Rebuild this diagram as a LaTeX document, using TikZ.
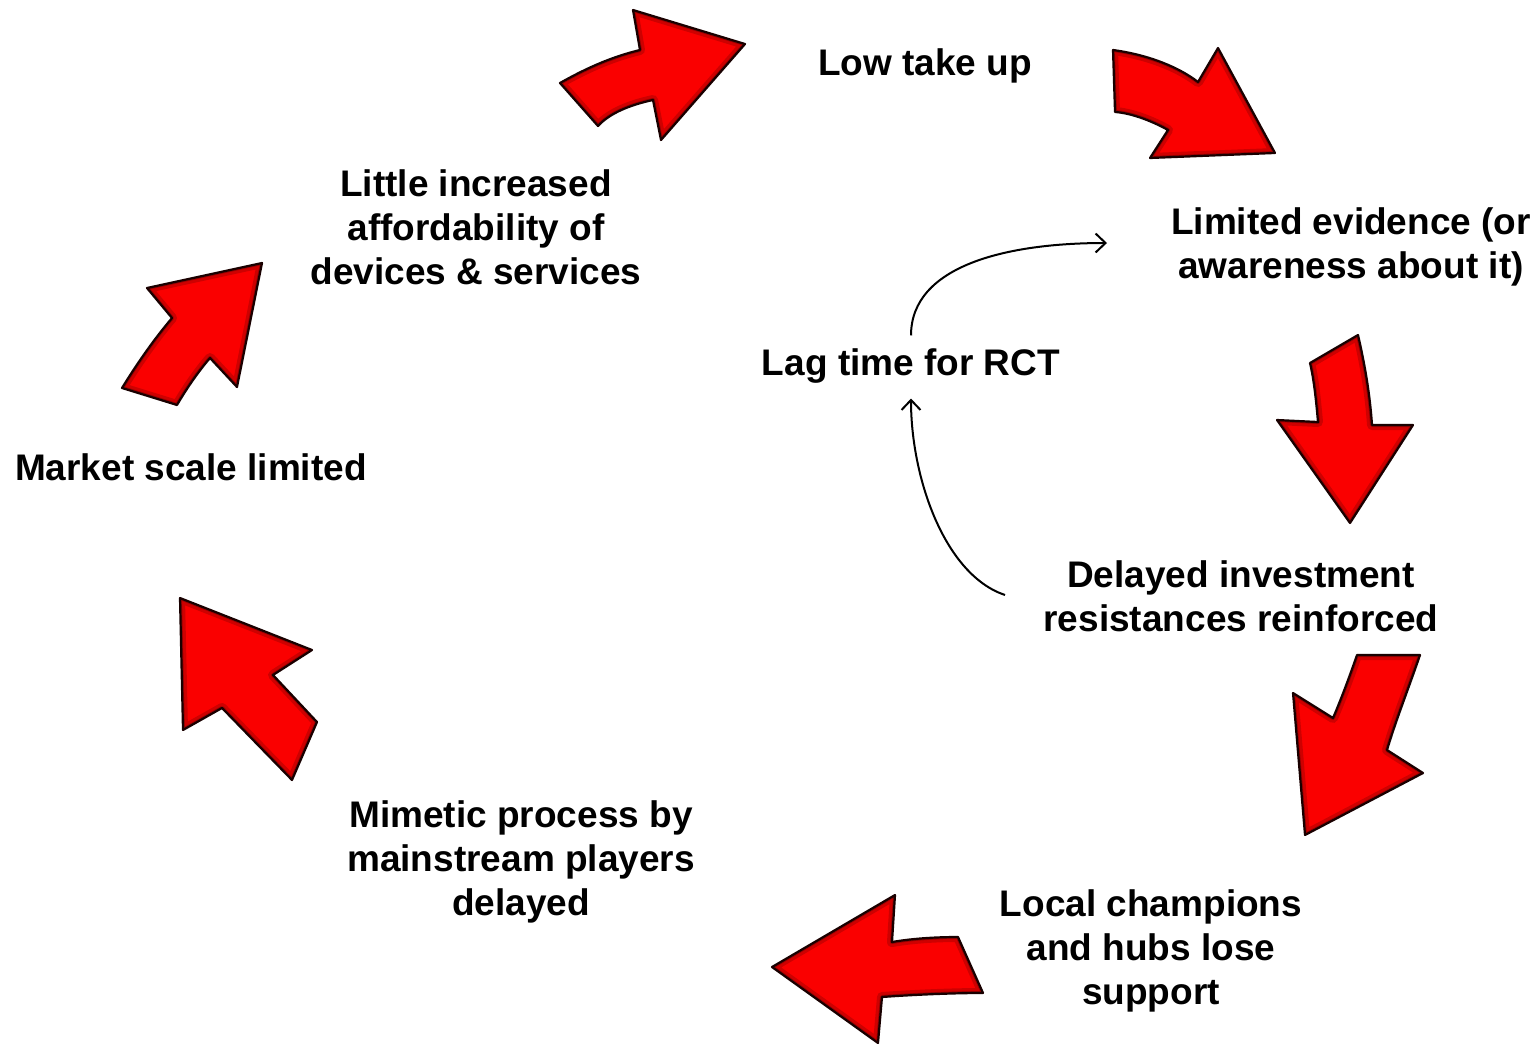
\documentclass[tikz,border=0pt]{standalone}
\usepackage{fontspec}
\setmainfont{Liberation Sans}
\usetikzlibrary{arrows.meta}
\definecolor{arrowred}{RGB}{250,0,0}
\definecolor{rimred}{RGB}{170,0,0}
\newcommand\bevelarrow[1]{%
  \begin{scope}
    \clip #1;
    \fill[arrowred] #1;
    \draw[line width=10pt, rimred, opacity=0.55, line join=round] #1;
    \draw[line width=4pt, red!60!black, line join=round] #1;
  \end{scope}
  \draw[line width=2.2pt, black!90!red, line join=round] #1;
}
\begin{document}
\begin{tikzpicture}[x=1pt,y=-1pt,
  lbl/.style={font=\bfseries\fontsize{37}{44}\selectfont, align=center, inner sep=0pt},
  thinarrow/.style={line width=2pt, -{Straight Barb[length=10pt,width=19pt]}}]
\useasboundingbox (0,0) rectangle (1534,1047);
% labels
\node[lbl] (low) at (925,66) {Low take up};
\node[lbl] (little) at (476,227) {Little increased\\affordability of\\devices \& services};
\node[lbl] (limited) at (1351,247) {Limited evidence (or\\awareness about it)};
\node[lbl] (lag) at (911,366) {Lag time for RCT};
\node[lbl] (market) at (191,467) {Market scale limited};
\node[lbl] (delayed) at (1241,596) {Delayed investment\\resistances reinforced};
\node[lbl] (mimetic) at (521,862) {Mimetic process by\\mainstream players\\delayed};
\node[lbl] (local) at (1151,951) {Local champions\\and hubs lose\\support};
% connector ends
\coordinate (evin) at (1107,243);
\coordinate (delout) at (1005,595);
\draw[thinarrow] ([yshift=13pt]lag.north) .. controls +(0,-70) and +(-100,0) .. (evin);
\draw[thinarrow] (delout) .. controls +(-60,-20) and +(0,80) .. ([yshift=-15pt]lag.south);
% red arrows
\bevelarrow{(560,83) .. controls (590,66) and (615,56) .. (640,50) -- (633,10) -- (745,44) -- (661,140) -- (653,100) .. controls (630,105) and (610,113) .. (598,126) -- cycle}
\bevelarrow{(1113,50) .. controls (1150,55) and (1180,68) .. (1198,82) -- (1218,48) -- (1275,153) -- (1150,158) -- (1168,130) .. controls (1150,120) and (1130,113) .. (1115,112) -- cycle}
\bevelarrow{(1310,363) -- (1358,335) .. controls (1365,365) and (1370,395) .. (1372,425) -- (1413,425) -- (1350,523) -- (1277,420) -- (1318,422) .. controls (1316,400) and (1314,380) .. (1310,363) -- cycle}
\bevelarrow{(1357,655) -- (1420,655) .. controls (1408,690) and (1396,720) .. (1387,750) -- (1423,773) -- (1305,835) -- (1293,693) -- (1333,718) .. controls (1342,697) and (1350,675) .. cycle}
\bevelarrow{(772,967) -- (895,895) -- (892,942) .. controls (915,938) and (940,937) .. (958,937) -- (983,993) .. controls (950,993) and (910,995) .. (882,997) -- (878,1043) -- cycle}
\bevelarrow{(180,598) -- (312,650) -- (273,675) -- (317,722) -- (292,780) -- (222,708) -- (183,730) -- cycle}
\bevelarrow{(262,263) -- (237,387) -- (210,358) .. controls (198,372) and (187,388) .. (177,405) -- (122,388) .. controls (138,362) and (155,338) .. (172,318) -- (147,288) -- cycle}
\end{tikzpicture}
\end{document}
